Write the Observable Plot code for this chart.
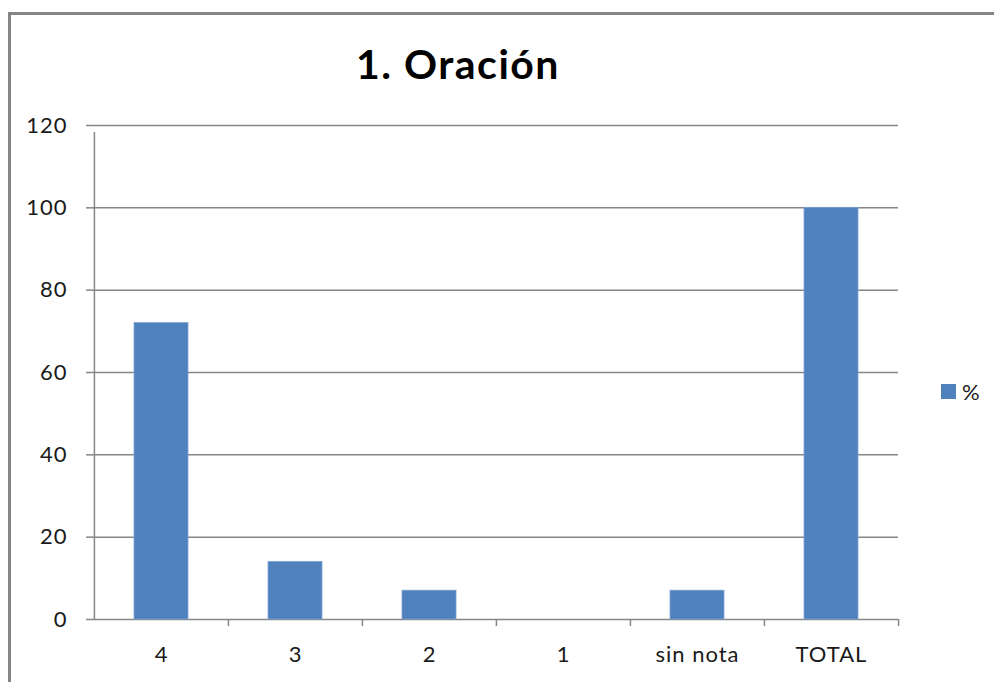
<!DOCTYPE html>
<html>
<head>
<meta charset="utf-8">
<script src="https://cdn.jsdelivr.net/npm/d3@7"></script>
<script src="https://cdn.jsdelivr.net/npm/@observablehq/plot@0.6"></script>
<style>
  html, body { margin: 0; padding: 0; background: #fff; }
  #wrap { position: relative; width: 994px; height: 682px; overflow: hidden; font-family: Lato, "Open Sans", sans-serif; }
  #border { position: absolute; left: 8px; top: 12px; width: 1200px; height: 1000px; border-left: 3px solid #858585; border-top: 3px solid #858585; box-sizing: border-box; }
  #title { position: absolute; left: 458px; top: 40px; transform: translateX(-50%); font-weight: bold; font-size: 41px; letter-spacing: 1.5px; color: #000; white-space: nowrap; line-height: 48px; }
  #legend { position: absolute; left: 941px; top: 378px; display: flex; align-items: center; font-size: 22px; letter-spacing: 1px; color: #1a1a1a; }
  #legend .sw { width: 15px; height: 15px; background: #4F81BD; margin-right: 6px; }
  #chart { position: absolute; left: 0; top: 0; }
  #chart svg text { letter-spacing: 1px; }
</style>
</head>
<body>
<div id="wrap">
  <div id="border"></div>
  <div id="chart"></div>
  <div id="title"></div>
  <div id="legend"><div class="sw"></div><span id="legtext"></span></div>
</div>
<script>
const title = "1. Oración";
const seriesName = "%";
const categories = ["4", "3", "2", "1", "sin nota", "TOTAL"];
const values = [72, 14, 7, 0, 7, 100];
const yTicks = [0, 20, 40, 60, 80, 100, 120];

const data = categories.map((c, i) => ({cat: c, val: values[i]}));

const W = 994, H = 682;
const mL = 93, mR = 96, mT = 125, mB = 63;
const step = (W - mL - mR) / categories.length;
const gridColor = "#868686";

document.getElementById("title").textContent = title;
document.getElementById("legtext").textContent = seriesName;

const chart = Plot.plot({
  width: W,
  height: H,
  marginLeft: mL,
  marginRight: mR,
  marginTop: mT,
  marginBottom: mB,
  style: {fontFamily: "Lato, 'Open Sans', sans-serif", fontSize: "22px", color: "#1a1a1a", background: "transparent"},
  x: {domain: categories, paddingInner: 0.6, paddingOuter: 0.3},
  y: {domain: [0, 120]},
  marks: [
    Plot.ruleY(yTicks, {stroke: gridColor, strokeWidth: 1.5, strokeOpacity: 1}),
    Plot.barY(data, {x: "cat", y: "val", fill: "#4F81BD", stroke: "#7fa3d1", strokeWidth: 0.8}),
    Plot.ruleX([categories[0]], {x: d => d, dx: -step / 2, y1: 0, y2: 120, insetBottom: -7, stroke: gridColor, strokeWidth: 1.5}),
    Plot.ruleX(categories.slice(1), {x: d => d, dx: -step / 2, y1: 0, y2: 0, insetBottom: -7, stroke: gridColor, strokeWidth: 1.5}),
    Plot.ruleX([categories[categories.length - 1]], {x: d => d, dx: step / 2, y1: 0, y2: 0, insetBottom: -7, stroke: gridColor, strokeWidth: 1.5}),
    Plot.axisY({ticks: yTicks, tickSize: 7, tickPadding: 19, label: null, stroke: gridColor, strokeWidth: 1.5, strokeOpacity: 1, fill: "#1a1a1a"}),
    Plot.axisX({tickSize: 0, tickPadding: 27, label: null, fill: "#1a1a1a"})
  ]
});
document.getElementById("chart").appendChild(chart);
</script>
</body>
</html>
